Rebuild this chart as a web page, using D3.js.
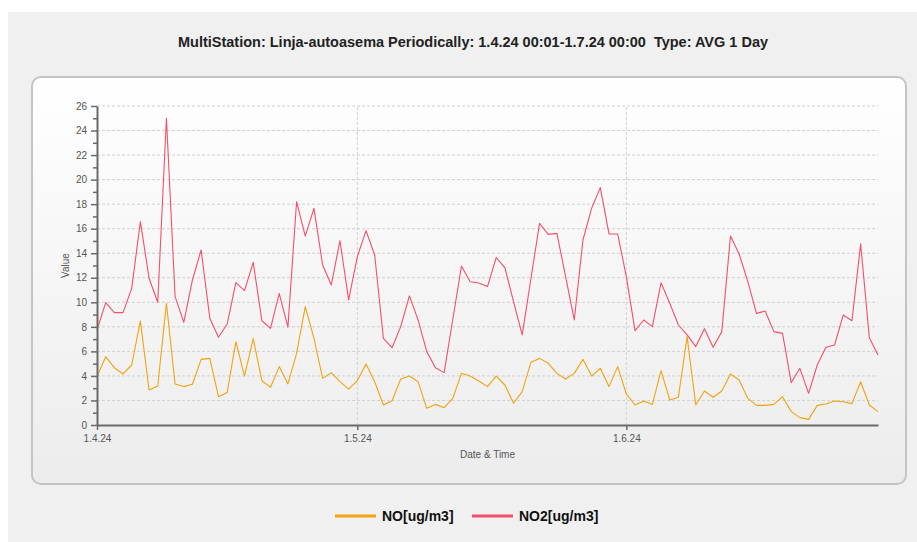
<!DOCTYPE html>
<html>
<head>
<meta charset="utf-8">
<script src="https://cdn.jsdelivr.net/npm/d3@7"></script>
<style>
html,body{margin:0;padding:0;background:#ffffff;}
svg{display:block;}
text{font-family:"Liberation Sans",Arial,sans-serif;}
</style>
</head>
<body>
<svg id="chart" width="917" height="542"></svg>
<script>
const title = "MultiStation: Linja-autoasema Periodically: 1.4.24 00:01-1.7.24 00:00  Type: AVG 1 Day";
const startDate = "2024-04-01";
const seriesNames = ["NO[ug/m3]", "NO2[ug/m3]"];
const seriesColors = ["#f2a30f", "#f4506a"];
const xTickDates = ["2024-04-01", "2024-05-01", "2024-06-01"];
const yTicks = [0,2,4,6,8,10,12,14,16,18,20,22,24,26];
const yMinorTicks = [1,3,5,7,9,11,13,15,17,19,21,23,25];

const noValues = [
  3.94,5.57,4.67,4.16,4.89,8.48,2.85,3.18,9.92,3.34,3.13,3.32,5.35,5.43,2.31,2.64,6.79,3.99,7.04,3.61,
  3.07,4.76,3.35,5.84,9.65,7.07,3.80,4.27,3.53,2.93,3.61,4.97,3.53,1.63,1.98,3.75,3.99,3.53,1.36,1.68,
  1.41,2.17,4.21,3.99,3.59,3.13,3.99,3.26,1.77,2.72,5.11,5.43,5.03,4.21,3.75,4.21,5.35,3.99,4.62,3.13,
  4.76,2.53,1.63,1.96,1.68,4.43,2.04,2.27,7.20,1.63,2.77,2.26,2.77,4.16,3.67,2.17,1.60,1.60,1.68,2.31,
  1.09,0.60,0.46,1.60,1.71,1.96,1.90,1.74,3.53,1.63,1.09
];
const no2Values = [
  7.74,9.97,9.16,9.16,11.14,16.58,11.96,10.00,25.00,10.46,8.37,11.82,14.27,8.70,7.15,8.23,11.60,10.95,13.26,8.50,
  7.88,10.73,7.98,18.20,15.40,17.66,13.04,11.41,15.03,10.19,13.72,15.84,13.86,7.07,6.30,8.02,10.52,8.56,5.98,4.67,
  4.27,8.60,12.96,11.68,11.57,11.28,13.64,12.83,10.05,7.34,11.90,16.44,15.54,15.62,12.09,8.56,15.08,17.66,19.35,15.57,
  15.57,12.09,7.69,8.56,8.02,11.60,9.92,8.15,7.34,6.39,7.85,6.33,7.61,15.40,13.94,11.68,9.10,9.29,7.61,7.47,
  3.45,4.62,2.58,4.89,6.33,6.52,8.97,8.50,14.76,7.12,5.71
];

const parse = d3.timeParse("%Y-%m-%d");
const t0 = parse(startDate);
const dates = noValues.map((_, i) => d3.timeDay.offset(t0, i));
const series = [noValues, no2Values];

const svg = d3.select("#chart");
const defs = svg.append("defs");
const grad = defs.append("linearGradient").attr("id","panelGrad").attr("x1",0).attr("y1",0).attr("x2",0).attr("y2",1);
grad.append("stop").attr("offset","0%").attr("stop-color","#ffffff");
grad.append("stop").attr("offset","100%").attr("stop-color","#ececec");

// outer background
svg.append("rect").attr("x",8).attr("y",12).attr("width",909).attr("height",530).attr("fill","#f0f0f0");
// panel
svg.append("rect").attr("x",32).attr("y",77).attr("width",874).attr("height",407)
  .attr("rx",9).attr("ry",9).attr("fill","url(#panelGrad)").attr("stroke","#c4c4c4").attr("stroke-width",2);

// title
svg.append("text").attr("x",473).attr("y",47).attr("text-anchor","middle")
  .style("white-space","pre").attr("xml:space","preserve")
  .attr("font-size",14).attr("font-weight","bold").attr("fill","#222")
  .attr("textLength",590).attr("lengthAdjust","spacingAndGlyphs").text(title);

const x = d3.scaleTime().domain([dates[0], dates[dates.length-1]]).range([97, 878]);
const y = d3.scaleLinear().domain([0, 26]).range([425, 106]);

// grid
const grid = svg.append("g");
grid.selectAll("line.h").data(yTicks.filter(v => v > 0)).join("line")
  .attr("x1", x.range()[0]).attr("x2", x.range()[1])
  .attr("y1", d => y(d)).attr("y2", d => y(d))
  .attr("stroke","#d0d0d0").attr("stroke-dasharray","3,2").attr("stroke-width",1);
grid.selectAll("line.v").data(xTickDates.slice(1).map(parse)).join("line")
  .attr("x1", d => x(d)).attr("x2", d => x(d))
  .attr("y1", y.range()[0]).attr("y2", y.range()[1])
  .attr("stroke","#d0d0d0").attr("stroke-dasharray","3,2").attr("stroke-width",1);

// lines
const line = d3.line().x((d, i) => x(dates[i])).y(d => y(d));
series.forEach((vals, k) => {
  svg.append("path").datum(vals).attr("d", line)
    .attr("fill","none").attr("stroke", seriesColors[k]).attr("stroke-width",1.1)
    .attr("stroke-linejoin","round");
});

// y axis
const yAxis = svg.append("g").attr("transform", `translate(${x.range()[0]},0)`)
  .call(d3.axisLeft(y).tickValues(yTicks).tickSize(6).tickSizeOuter(0).tickPadding(4).tickFormat(d3.format("d")));
yAxis.select(".domain").attr("stroke","#6a6a6a").attr("stroke-width",2);
yAxis.selectAll(".tick line").attr("stroke","#6a6a6a").attr("stroke-width",1.5);
yAxis.selectAll(".tick text").attr("fill","#555").attr("font-size",10).attr("font-family","Liberation Sans, Arial, sans-serif");
const yMinor = svg.append("g").attr("transform", `translate(${x.range()[0]},0)`)
  .call(d3.axisLeft(y).tickValues(yMinorTicks).tickSize(4).tickFormat(""));
yMinor.select(".domain").remove();
yMinor.selectAll(".tick line").attr("stroke","#6a6a6a").attr("stroke-width",1.5);

// x axis
const xAxis = svg.append("g").attr("transform", `translate(0,${y.range()[0]})`)
  .call(d3.axisBottom(x).tickValues(xTickDates.map(parse)).tickSize(5).tickSizeOuter(0).tickPadding(5)
    .tickFormat(d3.timeFormat("%-d.%-m.%y")));
xAxis.select(".domain").attr("stroke","#6a6a6a").attr("stroke-width",2);
xAxis.selectAll(".tick line").attr("stroke","#6a6a6a").attr("stroke-width",1.5);
xAxis.selectAll(".tick text").attr("fill","#555").attr("font-size",10).attr("font-family","Liberation Sans, Arial, sans-serif");

// axis titles
svg.append("text").attr("x",(x.range()[0]+x.range()[1])/2).attr("y",458).attr("text-anchor","middle")
  .attr("font-size",10).attr("fill","#555").text("Date & Time");
svg.append("text").attr("transform",`translate(69,${(y.range()[0]+y.range()[1])/2}) rotate(-90)`)
  .attr("text-anchor","middle").attr("font-size",10).attr("fill","#555").text("Value");

// legend
const legendItems = [{x:335}, {x:472}];
seriesNames.forEach((name, k) => {
  const g = svg.append("g").attr("transform", `translate(${legendItems[k].x},516)`);
  g.append("line").attr("x1",0).attr("x2",41).attr("y1",0).attr("y2",0)
    .attr("stroke", seriesColors[k]).attr("stroke-width",3);
  g.append("text").attr("x",47).attr("y",5).attr("font-size",14).attr("font-weight","bold")
    .attr("fill","#111").text(name);
});
</script>
</body>
</html>
